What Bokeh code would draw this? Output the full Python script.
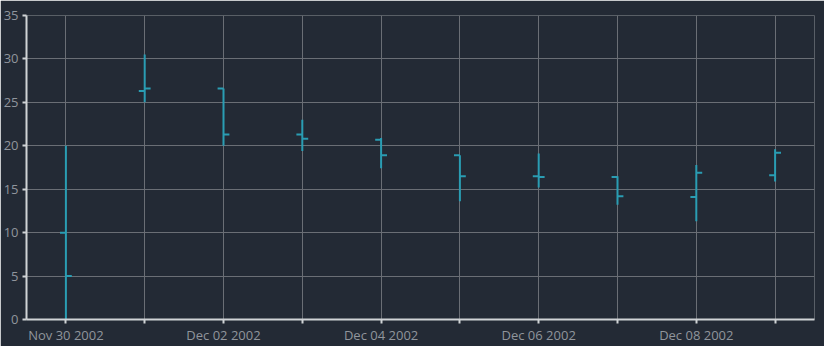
from datetime import datetime
from bokeh.plotting import figure
from bokeh.models import ColumnDataSource, FixedTicker, Range1d, DatetimeTickFormatter
from bokeh.embed import file_html
from bokeh.resources import INLINE

dates = ["2002-11-30", "2002-12-01", "2002-12-02", "2002-12-03", "2002-12-04",
         "2002-12-05", "2002-12-06", "2002-12-07", "2002-12-08", "2002-12-09"]
opens = [10, 26.3, 26.6, 21.3, 20.7, 18.9, 16.5, 16.4, 14.1, 16.6]
highs = [20, 30.5, 26.6, 23.0, 20.9, 18.9, 19.1, 16.5, 17.8, 19.6]
lows = [0, 25.0, 20.0, 19.4, 17.4, 13.6, 15.2, 13.2, 11.3, 15.9]
closes = [5, 26.6, 21.3, 20.8, 18.9, 16.5, 16.4, 14.2, 16.9, 19.2]
y_ticks = [0, 5, 10, 15, 20, 25, 30, 35]

DAY = 86400000.0
EPOCH = datetime(1970, 1, 1)
dts = [datetime.strptime(d, "%Y-%m-%d") for d in dates]
xs = [(d - EPOCH).total_seconds() * 1000 for d in dts]
tick_len = 0.075 * DAY

src = ColumnDataSource(dict(
    x=xs, o=opens, h=highs, l=lows, c=closes,
    xl=[x - tick_len for x in xs], xr=[x + tick_len for x in xs],
))

BG = "#232a35"
TEAL = "#2a9db3"

p = figure(width=824, height=346, output_backend="svg", toolbar_location=None,
           x_axis_type="datetime",
           x_range=Range1d(xs[0] - 0.5 * DAY, xs[-1] + 0.5 * DAY),
           y_range=Range1d(0, 35),
           min_border_left=26, min_border_right=10, min_border_top=15, min_border_bottom=26)
p.background_fill_color = BG
p.border_fill_color = BG
p.outline_line_color = None

p.segment(x0="x", y0="l", x1="x", y1="h", source=src, line_color=TEAL, line_width=2)
p.segment(x0="xl", y0="o", x1="x", y1="o", source=src, line_color=TEAL, line_width=2)
p.segment(x0="x", y0="c", x1="xr", y1="c", source=src, line_color=TEAL, line_width=2)

p.xaxis.ticker = FixedTicker(ticks=xs)
p.xaxis.formatter = DatetimeTickFormatter(days="%b %d %Y")
p.xaxis.major_label_overrides = {x: (d.strftime("%b %d %Y") if i % 2 == 0 else "")
                                 for i, (x, d) in enumerate(zip(xs, dts))}
p.yaxis.ticker = FixedTicker(ticks=y_ticks)

for ax in (p.xaxis[0], p.yaxis[0]):
    ax.axis_line_color = "#d0d3d6"
    ax.axis_line_width = 2
    ax.major_tick_line_color = "#d0d3d6"
    ax.major_tick_line_width = 2
    ax.minor_tick_line_color = None
    ax.major_tick_in = 0
    ax.major_label_text_color = "#90959c"
    ax.major_label_text_font = "Open Sans"
    ax.major_label_text_font_size = "13px"
p.xaxis.major_tick_out = 4
p.yaxis.major_tick_out = 4
p.xaxis.major_label_standoff = 2
p.yaxis.major_label_standoff = 4

p.xgrid.ticker = FixedTicker(ticks=xs)
p.ygrid.ticker = FixedTicker(ticks=y_ticks)
p.grid.grid_line_color = "#6a6e75"
p.grid.grid_line_width = 1

open("out.html", "w").write(file_html(p, INLINE))
